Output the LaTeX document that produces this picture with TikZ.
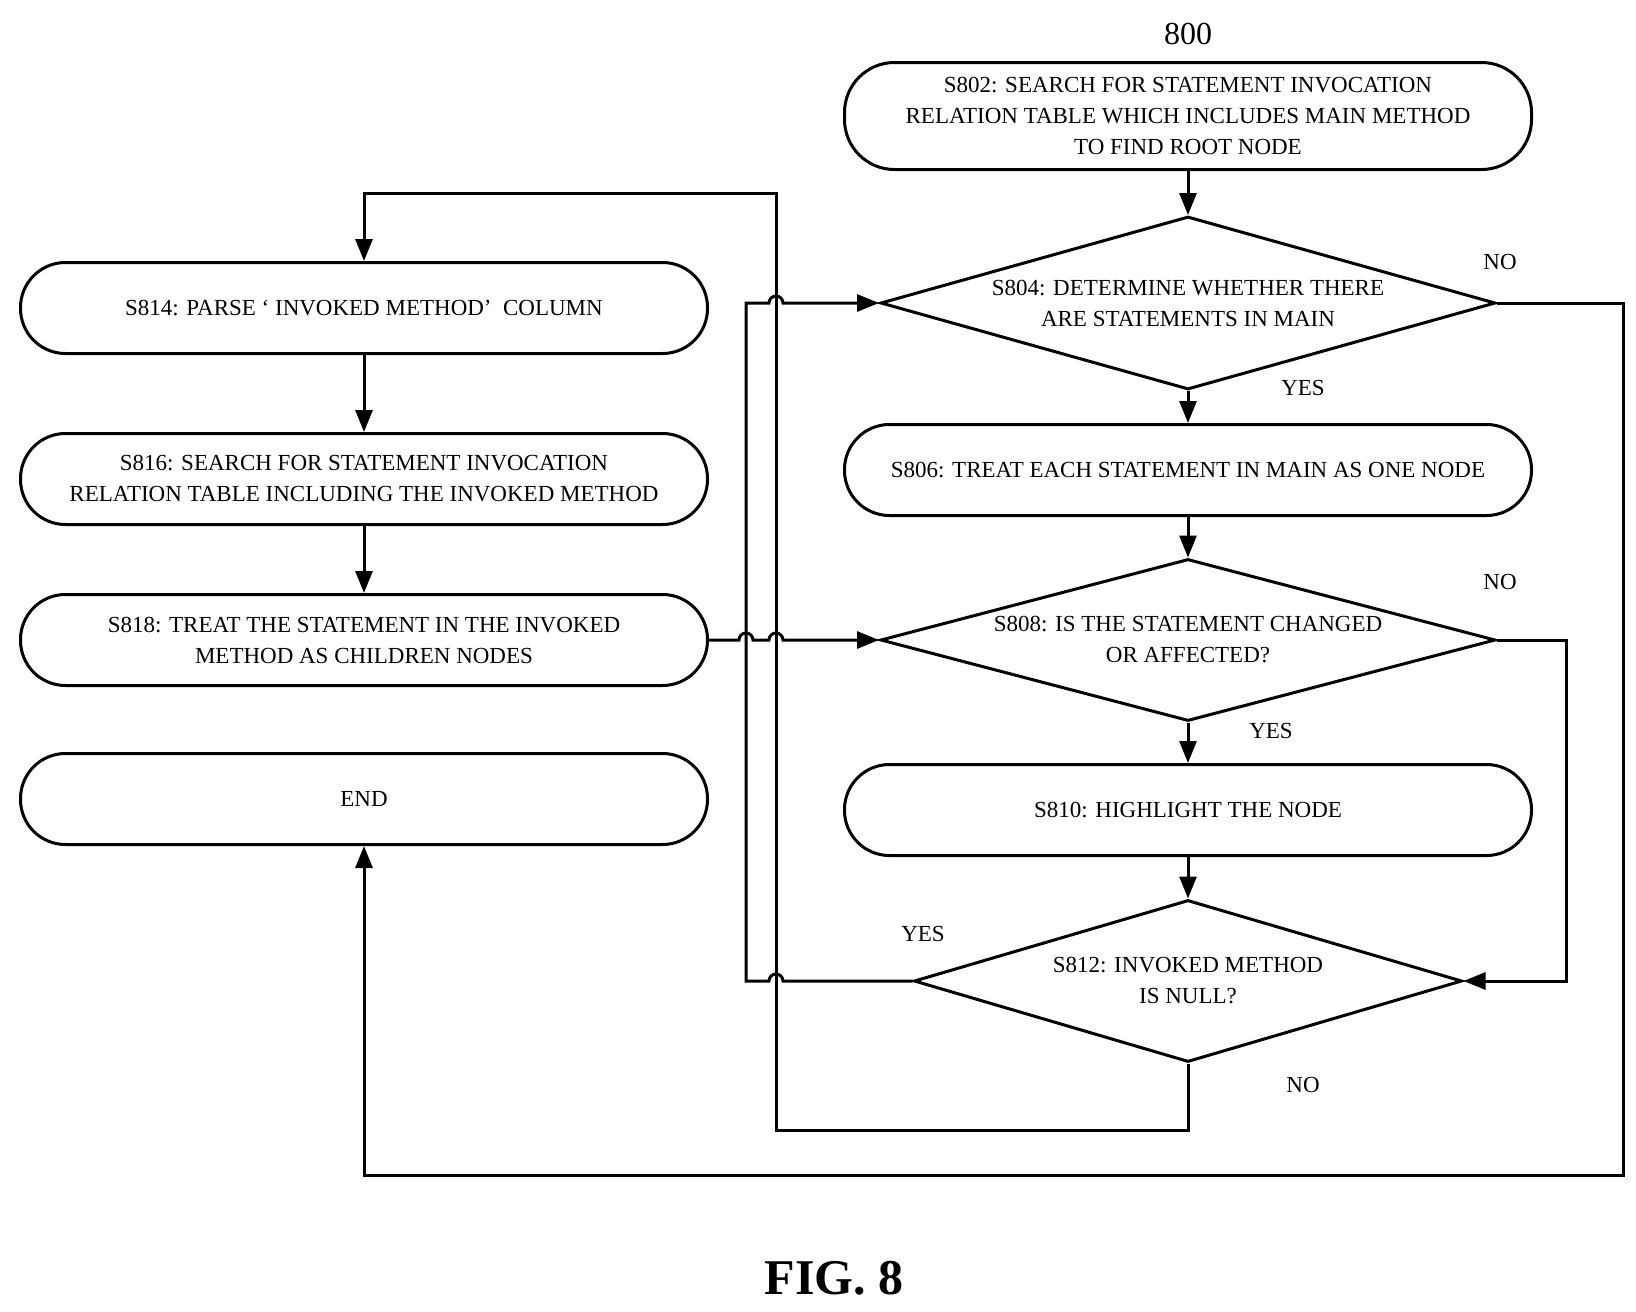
\documentclass[tikz,border=0pt]{standalone}
\usepackage{fontspec}
\setmainfont{Liberation Serif}
\usetikzlibrary{shapes.geometric,arrows.meta,positioning}
\tikzset{
  stepbox/.style={draw,line width=3pt,rectangle,rounded corners=45pt,minimum width=687pt,minimum height=91pt,align=center,font=\fontsize{23}{31}\selectfont},
  test/.style={draw,line width=3pt,diamond,inner sep=0pt},
  lab/.style={font=\fontsize{23}{31}\selectfont,align=center},
  flow/.style={line width=3pt,-{Triangle[length=22pt,width=17pt]}}
}
\begin{document}
\begin{tikzpicture}[x=1pt,y=1pt]
\useasboundingbox (0,0) rectangle (1636,-1312);
% right column
\node[lab,font=\fontsize{32}{36}\selectfont] (num) at (1188,-34) {800};
\node[stepbox,minimum height=107pt,rounded corners=50pt] (s802) at (1188,-116) {S802: SEARCH FOR STATEMENT INVOCATION\\RELATION TABLE WHICH INCLUDES MAIN METHOD\\TO FIND ROOT NODE};
\node[test,minimum width=615pt,minimum height=173pt,label={[lab]center:S804: DETERMINE WHETHER THERE\\ARE STATEMENTS IN MAIN}] (s804) at (1188,-303) {};
\node[stepbox] (s806) at (1188,-470) {S806: TREAT EACH STATEMENT IN MAIN AS ONE NODE};
\node[test,minimum width=615pt,minimum height=162pt,label={[lab]center:S808: IS THE STATEMENT CHANGED\\OR AFFECTED?}] (s808) at (1188,-640) {};
\node[stepbox] (s810) at (1188,-810) {S810: HIGHLIGHT THE NODE};
\node[test,minimum width=548pt,minimum height=162pt,label={[lab]center:S812: INVOKED METHOD\\IS NULL?}] (s812) at (1188,-981) {};
% left column
\node[stepbox] (s814) at (364,-308) {S814: PARSE \textquoteleft\ INVOKED METHOD\textquoteright\ \ COLUMN};
\node[stepbox] (s816) at (364,-479) {S816: SEARCH FOR STATEMENT INVOCATION\\RELATION TABLE INCLUDING THE INVOKED METHOD};
\node[stepbox] (s818) at (364,-640) {S818: TREAT THE STATEMENT IN THE INVOKED\\METHOD AS CHILDREN NODES};
\node[stepbox] (send) at (364,-799) {END};
% branch labels
\node[lab] (no1) at (1500,-262) {NO};
\node[lab] (yes1) at (1303,-388) {YES};
\node[lab] (no2) at (1500,-582) {NO};
\node[lab] (yes2) at (1271,-731) {YES};
\node[lab] (yes3) at (923,-934) {YES};
\node[lab] (no3) at (1303,-1085) {NO};
\node[font=\bfseries\fontsize{50}{54}\selectfont] (fig) at (834,-1278) {FIG. 8};
% straight flow
\draw[flow] (s802) -- (s804);
\draw[flow] (s804) -- (s806);
\draw[flow] (s806) -- (s808);
\draw[flow] (s808) -- (s810);
\draw[flow] (s810) -- (s812);
\draw[flow] (s814) -- (s816);
\draw[flow] (s816) -- (s818);
% loops
\coordinate (back) at (776,-1130);
\draw[flow] (s812.south) |- (back) |- (776,-193) -| (s814.north);
\draw[flow] (s812.west) -- (776+7,-981) arc(0:180:7) -- (746,-981) |- (746-0,-303) -- (776-7,-303) arc(180:0:7) -- (s804.west);
\draw[flow] (s818.east) -- (746-7,-640) arc(180:0:7) -- (776-7,-640) arc(180:0:7) -- (s808.west);
\draw[flow] (s804.east) -| (1623,-1175) -| (send.south);
\draw[flow] (s808.east) -| (1566,-981) -- (s812.east);
\end{tikzpicture}
\end{document}
